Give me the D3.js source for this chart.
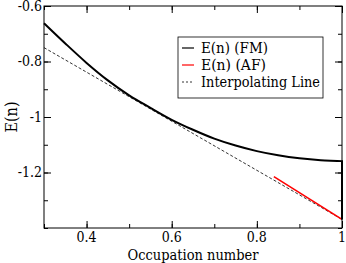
<!DOCTYPE html>
<html>
<head>
<meta charset="utf-8">
<script src="https://cdn.jsdelivr.net/npm/d3@7"></script>
<style>
  body { margin: 0; background: #fff; }
</style>
</head>
<body>
<div id="chart"></div>
<script>
// FM curve
const fmN = [0.30, 0.35, 0.40, 0.45, 0.50, 0.55, 0.60, 0.65, 0.70, 0.75, 0.80, 0.85, 0.90, 0.95, 1.00, 1.00];
const fmE = [-0.662, -0.735, -0.805, -0.868, -0.922, -0.967, -1.010, -1.046, -1.078, -1.103, -1.123, -1.138, -1.149, -1.156, -1.159, -1.369];

// AF segment
const afN = [0.84, 1.00];
const afE = [-1.215, -1.369];

// interpolating line
const lineN = [0.30, 1.00];
const lineE = [-0.750, -1.369];

const xTicks = [0.4, 0.6, 0.8, 1];
const yTicks = [-0.6, -0.8, -1, -1.2];
const legendLabels = ["E(n) (FM)", "E(n) (AF)", "Interpolating Line"];

const W = 346, H = 263;
const m = {left: 44, right: 4, top: 6, bottom: 35};
const serif = "'DejaVu Serif Condensed', 'DejaVu Serif', serif";

const svg = d3.select("#chart").append("svg")
    .attr("width", W)
    .attr("height", H)
    .attr("font-family", serif);

const x = d3.scaleLinear().domain([0.3, 1]).range([m.left, W - m.right]);
const y = d3.scaleLinear().domain([-1.4, -0.6]).range([H - m.bottom, m.top]);

const minorX = d3.range(0.3, 1.001, 0.1);
const minorY = d3.range(-1.4, -0.599, 0.1);

// ticks on all four sides, pointing inward
function ticks(g, axis, vals, size) {
    g.call(axis.tickValues(vals).tickSize(size).tickFormat(""));
    g.select(".domain").remove();
    g.selectAll("line").attr("stroke", "#000");
}
svg.append("g").attr("transform", `translate(0,${H - m.bottom})`)
    .call(g => ticks(g, d3.axisTop(x), minorX, 4));
svg.append("g").attr("transform", `translate(0,${H - m.bottom})`)
    .call(g => ticks(g, d3.axisTop(x), xTicks, 7));
svg.append("g").attr("transform", `translate(0,${m.top})`)
    .call(g => ticks(g, d3.axisBottom(x), minorX, 4));
svg.append("g").attr("transform", `translate(0,${m.top})`)
    .call(g => ticks(g, d3.axisBottom(x), xTicks, 7));
svg.append("g").attr("transform", `translate(${m.left},0)`)
    .call(g => ticks(g, d3.axisRight(y), minorY, 4));
svg.append("g").attr("transform", `translate(${m.left},0)`)
    .call(g => ticks(g, d3.axisRight(y), yTicks, 7));
svg.append("g").attr("transform", `translate(${W - m.right},0)`)
    .call(g => ticks(g, d3.axisLeft(y), minorY, 4));
svg.append("g").attr("transform", `translate(${W - m.right},0)`)
    .call(g => ticks(g, d3.axisLeft(y), yTicks, 7));

// tick labels
svg.append("g").selectAll("text")
    .data(xTicks)
    .enter()
    .append("text")
    .attr("x", d => x(d))
    .attr("y", H - m.bottom + 14)
    .attr("text-anchor", "middle")
    .attr("font-size", 14)
    .text(d => d);

svg.append("g").selectAll("text")
    .data(yTicks)
    .enter()
    .append("text")
    .attr("x", m.left - 2)
    .attr("y", d => y(d) + 4.5)
    .attr("text-anchor", "end")
    .attr("font-size", 14)
    .text(d => d);

// curves
const line = d3.line().x(d => x(d[0])).y(d => y(d[1]));

svg.append("path")
    .datum(lineN.map((n, i) => [n, lineE[i]]))
    .attr("d", line)
    .attr("fill", "none")
    .attr("stroke", "#000")
    .attr("stroke-width", 0.8)
    .attr("stroke-dasharray", "3,2");

svg.append("path")
    .datum(afN.map((n, i) => [n, afE[i]]))
    .attr("d", line)
    .attr("fill", "none")
    .attr("stroke", "#ff0000")
    .attr("stroke-width", 1.6);

svg.append("path")
    .datum(fmN.map((n, i) => [n, fmE[i]]))
    .attr("d", d3.line().curve(d3.curveMonotoneX).x(d => x(d[0])).y(d => y(d[1])))
    .attr("fill", "none")
    .attr("stroke", "#000")
    .attr("stroke-width", 2);

// frame
svg.append("rect")
    .attr("x", m.left)
    .attr("y", m.top)
    .attr("width", W - m.left - m.right)
    .attr("height", H - m.top - m.bottom)
    .attr("fill", "none")
    .attr("stroke", "#000")
    .attr("stroke-width", 1);

// axis titles
svg.append("text")
    .attr("x", (m.left + W - m.right) / 2)
    .attr("y", H - 3)
    .attr("text-anchor", "middle")
    .attr("font-size", 15)
    .attr("textLength", 131)
    .attr("lengthAdjust", "spacingAndGlyphs")
    .text("Occupation number");

svg.append("text")
    .attr("transform", `translate(17,${(m.top + H - m.bottom) / 2}) rotate(-90)`)
    .attr("text-anchor", "middle")
    .attr("font-size", 16)
    .text("E(n)");

// legend
const lg = svg.append("g").attr("transform", "translate(178,37)");
lg.append("rect")
    .attr("width", 145)
    .attr("height", 61)
    .attr("fill", "#fff")
    .attr("stroke", "#000")
    .attr("stroke-width", 0.8);

const styles = [
    {color: "#000", dash: null, w: 1.2, len: 67},
    {color: "#ff0000", dash: null, w: 1.2, len: 65},
    {color: "#000", dash: "2,2", w: 0.8, len: 119}
];
legendLabels.forEach((lab, i) => {
    const cy = 11 + i * 17;
    lg.append("line")
        .attr("x1", 4).attr("x2", 16)
        .attr("y1", cy).attr("y2", cy)
        .attr("stroke", styles[i].color)
        .attr("stroke-width", styles[i].w)
        .attr("stroke-dasharray", styles[i].dash);
    lg.append("text")
        .attr("x", 23)
        .attr("y", cy + 5)
        .attr("font-size", 15)
        .attr("textLength", styles[i].len)
        .attr("lengthAdjust", "spacingAndGlyphs")
        .text(lab);
});
</script>
</body>
</html>
